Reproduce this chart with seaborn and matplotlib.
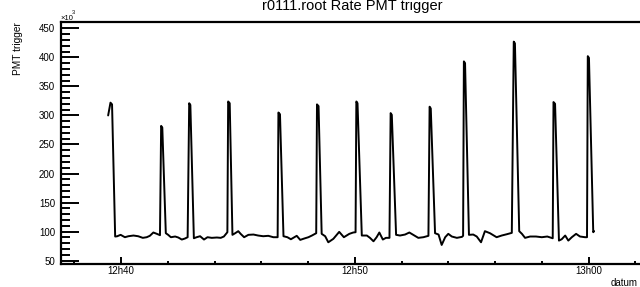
import pandas as pd
import matplotlib
matplotlib.use("Agg")
import matplotlib.pyplot as plt
import matplotlib.dates as mdates
from matplotlib.ticker import MultipleLocator
import seaborn as sns

# sample times (hh:mm:ss)
times = [
    "12:39:27", "12:39:33", "12:39:37",
    "12:39:45", "12:39:50", "12:39:59", "12:40:10", "12:40:19", "12:40:32", "12:40:44",
    "12:40:56", "12:41:06", "12:41:14", "12:41:23", "12:41:32", "12:41:40",
    "12:41:43", "12:41:46",
    "12:41:55", "12:42:01", "12:42:08", "12:42:19", "12:42:27", "12:42:36", "12:42:44", "12:42:51",
    "12:42:55", "12:42:58",
    "12:43:07", "12:43:14", "12:43:23", "12:43:33", "12:43:42", "12:43:53", "12:44:06",
    "12:44:16", "12:44:24", "12:44:33",
    "12:44:35", "12:44:39",
    "12:44:46", "12:44:53", "12:45:01", "12:45:07", "12:45:16", "12:45:27", "12:45:40",
    "12:45:52", "12:46:05", "12:46:18", "12:46:31", "12:46:42",
    "12:46:44", "12:46:48",
    "12:46:57", "12:47:07", "12:47:16", "12:47:25", "12:47:31", "12:47:40", "12:47:50",
    "12:48:01", "12:48:10", "12:48:21",
    "12:48:23", "12:48:27",
    "12:48:35", "12:48:44", "12:48:52", "12:49:05", "12:49:20", "12:49:32", "12:49:46",
    "12:49:56", "12:50:02",
    "12:50:04", "12:50:07",
    "12:50:18", "12:50:31", "12:50:39", "12:50:48", "12:50:56", "12:51:03", "12:51:12",
    "12:51:20", "12:51:29",
    "12:51:32", "12:51:35",
    "12:51:46", "12:51:56", "12:52:09", "12:52:20", "12:52:30", "12:52:43", "12:52:56", "12:53:09",
    "12:53:12", "12:53:15",
    "12:53:26", "12:53:35", "12:53:43", "12:53:52", "12:54:00", "12:54:09", "12:54:22",
    "12:54:35", "12:54:38",
    "12:54:40", "12:54:43",
    "12:54:53", "12:55:04", "12:55:13", "12:55:24", "12:55:34", "12:55:47", "12:56:04",
    "12:56:17", "12:56:30", "12:56:43",
    "12:56:48", "12:56:51",
    "12:57:02", "12:57:09", "12:57:17", "12:57:30", "12:57:45", "12:58:00", "12:58:14", "12:58:28",
    "12:58:30", "12:58:34",
    "12:58:44", "12:58:51", "12:59:00", "12:59:08", "12:59:17", "12:59:28", "12:59:38",
    "12:59:51", "12:59:56",
    "12:59:58", "13:00:01",
    "13:00:12", "13:00:14",
]

# PMT trigger rate in units of 10^3
rate = [
    300, 322, 319,
    91.6, 92, 94.5, 90.4, 92.1, 93.3, 92.1, 89.3, 90.4, 92.8, 98.5, 96.2, 93.9,
    282, 279,
    97.3, 94.5, 90.4, 91.6, 89.9, 86.4, 88.1, 90.4,
    321, 318,
    88.6, 90.4, 92.1, 86.4, 90.4, 89.3, 89.9, 89.3, 91.6, 99,
    324, 321,
    94.5, 97.3, 100.8, 96.2, 90.4, 94.5, 95, 93.3, 92.1, 92.8, 90.4, 90.4,
    305, 302,
    92.1, 90.4, 86.9, 90.4, 92.8, 85.8, 88.1, 90.4, 93.3, 97.3,
    319, 316,
    96.2, 92.1, 81.7, 87.6, 99.6, 90.4, 96.2, 98.5, 99,
    324, 321,
    93.3, 93.3, 89.3, 83.4, 90.4, 98.5, 86.4, 89.3, 89.3,
    304, 301,
    94.5, 93.3, 95, 98.5, 94.5, 89.3, 90.4, 92.8,
    315, 312,
    97.3, 95, 77.1, 90.4, 96.2, 91.6, 89.3, 91, 92.8,
    393, 390,
    94.5, 95, 91.6, 81.7, 100.8, 97.3, 90.4, 93.3, 95.5, 97.9,
    427, 424,
    100.8, 96.2, 89.3, 91.6, 91.6, 90.4, 91.6, 88.6,
    323, 320,
    84.6, 86.9, 93.3, 84.6, 90.4, 96.2, 91.6, 90.4, 90.4,
    402, 399,
    99, 100.8,
]

day = "2000-01-01 "
df = pd.DataFrame({"datum": pd.to_datetime([day + t for t in times]), "rate": rate})

sns.set_style("ticks")
plt.rcParams["font.family"] = ["Liberation Sans", "DejaVu Sans"]
plt.rcParams["text.color"] = "black"

fig = plt.figure(figsize=(6.4, 2.87), dpi=100)
ax = fig.add_axes([61 / 640, 23 / 287, 579 / 640, 242 / 287])

sns.lineplot(data=df, x="datum", y="rate", ax=ax, color="black", linewidth=1.4,
             estimator=None, sort=False)

ax.set_xlim(pd.Timestamp(day + "12:37:26"), pd.Timestamp(day + "13:02:12"))
ax.set_ylim(44.3, 460.8)

ax.xaxis.set_major_locator(mdates.MinuteLocator(byminute=range(0, 60, 10)))
ax.xaxis.set_minor_locator(mdates.MinuteLocator(byminute=range(0, 60, 2)))
ax.xaxis.set_major_formatter(mdates.DateFormatter("%Hh%M"))
ax.yaxis.set_major_locator(MultipleLocator(50))
ax.yaxis.set_minor_locator(MultipleLocator(10))

ax.set_xlabel("")
ax.set_ylabel("")
for side in ["left", "top", "bottom"]:
    ax.spines[side].set_linewidth(1.6)
    ax.spines[side].set_color("black")
ax.spines["right"].set_visible(False)

ax.tick_params(axis="both", which="both", direction="in", width=1.4, color="black",
               labelsize=7, labelcolor="black")
ax.tick_params(axis="y", which="major", length=13, pad=4.3)
ax.tick_params(axis="y", which="minor", length=6.5)
ax.tick_params(axis="x", which="major", length=5, pad=1.5)
ax.tick_params(axis="x", which="minor", length=2.4)

# title sits right at the top edge, as in the original canvas
fig.text(352 / 640, 1 - 10 / 287, "r0111.root Rate PMT trigger", fontsize=10.5,
         ha="center", va="baseline")
fig.text(18 / 640, 1 - 22 / 287, "PMT trigger", fontsize=7.3, rotation=90,
         ha="center", va="top")
fig.text(638 / 640, 1 - 283 / 287, "datum", fontsize=7, ha="right", va="center")
fig.text(60 / 640, 1 - 20.5 / 287, "\u00d710", fontsize=5.5, ha="left", va="baseline")
fig.text(71.5 / 640, 1 - 14.5 / 287, "3", fontsize=4, ha="left", va="baseline")

fig.savefig("out.png", dpi=100)
